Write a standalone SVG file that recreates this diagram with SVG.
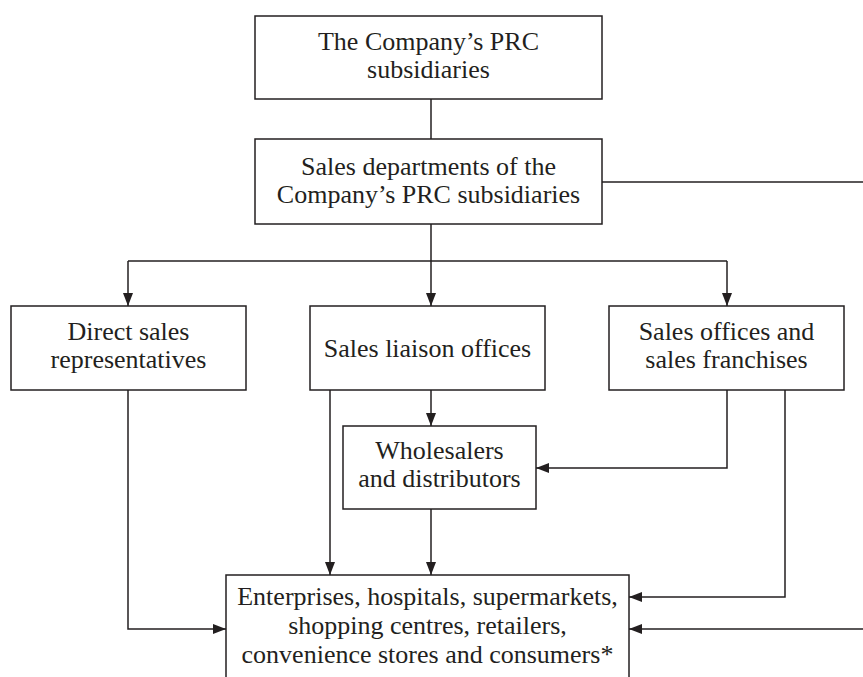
<svg xmlns="http://www.w3.org/2000/svg" width="863" height="677" viewBox="0 0 863 677">
<style>
.box{fill:#fff;stroke:#231f20;stroke-width:1.5}
.t{font-family:"Liberation Serif","Times New Roman",serif;font-size:26px;fill:#231f20;text-anchor:middle}
.c{fill:none;stroke:#231f20;stroke-width:1.5}
</style>
<defs>
<marker id="ah" markerUnits="userSpaceOnUse" markerWidth="14" markerHeight="12" refX="13" refY="5" orient="auto">
<path d="M0,0 L13,5 L0,10 Z" fill="#231f20"/>
</marker>
</defs>
<rect width="863" height="677" fill="#fff"/>
<g id="connectors">
<line class="c" x1="431" y1="99" x2="431" y2="139"/>
<line class="c" x1="602" y1="182" x2="863" y2="182"/>
<line class="c" x1="431" y1="224" x2="431" y2="261"/>
<line class="c" x1="128" y1="261" x2="727" y2="261"/>
<line class="c" x1="128" y1="261" x2="128" y2="306" marker-end="url(#ah)"/>
<line class="c" x1="431" y1="261" x2="431" y2="306" marker-end="url(#ah)"/>
<line class="c" x1="727" y1="261" x2="727" y2="306" marker-end="url(#ah)"/>
<polyline class="c" points="128,390 128,629 226,629" marker-end="url(#ah)"/>
<line class="c" x1="330" y1="390" x2="330" y2="575" marker-end="url(#ah)"/>
<line class="c" x1="431" y1="390" x2="431" y2="426" marker-end="url(#ah)"/>
<polyline class="c" points="727,390 727,468 536,468" marker-end="url(#ah)"/>
<line class="c" x1="431" y1="509" x2="431" y2="575" marker-end="url(#ah)"/>
<polyline class="c" points="785,390 785,597 629,597" marker-end="url(#ah)"/>
<line class="c" x1="863" y1="629" x2="629" y2="629" marker-end="url(#ah)"/>
</g>
<g id="n1">
<rect class="box" x="255" y="16" width="347" height="83"/>
<text class="t" x="428.5" y="50">The Company’s PRC</text>
<text class="t" x="428.5" y="78">subsidiaries</text>
</g>
<g id="n2">
<rect class="box" x="255" y="139" width="347" height="85"/>
<text class="t" x="428.5" y="175">Sales departments of the</text>
<text class="t" x="428.5" y="203">Company’s PRC subsidiaries</text>
</g>
<g id="n3">
<rect class="box" x="11" y="306" width="235" height="84"/>
<text class="t" x="128.5" y="340">Direct sales</text>
<text class="t" x="128.5" y="368">representatives</text>
</g>
<g id="n4">
<rect class="box" x="310" y="306" width="235" height="84"/>
<text class="t" x="427.5" y="357">Sales liaison offices</text>
</g>
<g id="n5">
<rect class="box" x="609" y="306" width="235" height="84"/>
<text class="t" x="726.5" y="340">Sales offices and</text>
<text class="t" x="726.5" y="368">sales franchises</text>
</g>
<g id="n6">
<rect class="box" x="343" y="426" width="193" height="83"/>
<text class="t" x="439.5" y="459">Wholesalers</text>
<text class="t" x="439.5" y="487">and distributors</text>
</g>
<g id="n7">
<rect class="box" x="226" y="575" width="403" height="120"/>
<text class="t" x="427.5" y="605">Enterprises, hospitals, supermarkets,</text>
<text class="t" x="427.5" y="634">shopping centres, retailers,</text>
<text class="t" x="427.5" y="663">convenience stores and consumers*</text>
</g>
</svg>
